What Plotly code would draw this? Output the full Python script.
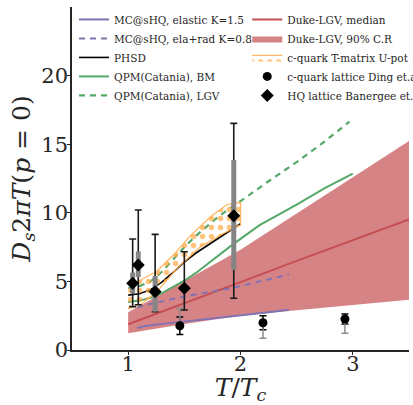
import plotly.graph_objects as go

# ---- model curves: T/Tc and D_s 2piT ----
mc_el_T = [1.08, 1.15, 1.25, 1.5, 1.75, 2.0, 2.25, 2.43]
mc_el_D = [1.6, 1.75, 1.85, 2.07, 2.27, 2.5, 2.75, 2.93]

mc_rad_T = [1.08, 1.25, 1.5, 1.75, 1.94, 2.2, 2.43]
mc_rad_D = [3.1, 3.45, 3.9, 4.25, 4.55, 5.05, 5.5]

phsd_T = [1.0, 1.1, 1.2, 1.3, 1.4, 1.5, 1.6, 1.7, 1.8, 1.9, 2.0]
phsd_D = [4.0, 4.1, 4.4, 4.95, 5.65, 6.4, 7.05, 7.6, 8.15, 8.7, 9.2]

qpm_bm_T = [1.0, 1.1, 1.2, 1.3, 1.4, 1.5, 1.6, 1.7, 1.8, 1.9, 2.0, 2.17, 2.5, 2.75, 3.0]
qpm_bm_D = [3.5, 3.6, 3.8, 4.15, 4.6, 5.05, 5.6, 6.25, 6.9, 7.5, 8.1, 9.1, 10.6, 11.8, 12.85]

qpm_lgv_T = [1.0, 1.1, 1.2, 1.3, 1.4, 1.5, 1.6, 1.7, 1.8, 1.9, 2.0, 2.25, 2.5, 2.75, 2.97]
qpm_lgv_D = [4.5, 4.65, 5.0, 5.7, 6.6, 7.5, 8.3, 9.0, 9.7, 10.3, 10.85, 12.3, 13.7, 15.2, 16.65]

duke_T = [1.0, 1.5, 2.0, 2.5, 3.0, 3.5]
duke_med = [1.88, 3.4, 4.95, 6.5, 8.0, 9.51]
duke_hi = [2.76, 5.0, 7.3, 9.95, 12.6, 15.24]
duke_lo = [1.22, 1.9, 2.5, 2.9, 3.3, 3.66]

tm_hi_T = [1.0, 1.11, 1.25, 1.40, 1.55, 1.73, 1.88, 2.0]
tm_hi_D = [4.7, 5.1, 5.7, 6.9, 8.3, 9.7, 10.6, 10.75]
tm_lo_T = [1.0, 1.11, 1.25, 1.43, 1.64, 1.85, 2.0]
tm_lo_D = [3.0, 3.3, 4.2, 5.9, 7.5, 8.5, 9.1]

# ---- lattice data ----
ding_T = [1.46, 2.2, 2.93]
ding_D = [1.77, 1.99, 2.26]
ding_err = [0.64, 0.51, 0.36]
ding_sys_plus = [1.27, 0.0, 0.0]
ding_sys_minus = [0.0, 1.14, 1.04]

hq_T = [1.04, 1.09, 1.24, 1.5, 1.94]
hq_D = [4.86, 6.2, 4.25, 4.5, 9.79]
hq_err_plus = [3.23, 4.0, 4.18, 2.66, 6.73]
hq_err_minus = [1.7, 2.9, 1.46, 1.58, 6.02]
hq_sys_plus = [0.78, 0.99, 1.14, 0.0, 4.06]
hq_sys_minus = [0.73, 0.88, 1.46, 0.0, 3.96]

x_ticks = [1, 2, 3]
y_ticks = [0, 5, 10, 15, 20]

PURPLE = "#8172b2"
GREEN = "#55a868"
RED = "#c44e52"
ORANGE = "rgba(255,170,70,0.85)"
INK = "#262626"
SERIF = "DejaVu Serif"

fig = go.Figure()

# Duke-LGV credible region and median
fig.add_trace(go.Scatter(
    x=duke_T + duke_T[::-1], y=duke_hi + duke_lo[::-1],
    fill="toself", fillcolor="rgba(196,78,82,0.7)", mode="lines",
    line=dict(width=0), name="Duke-LGV, 90% C.R", legend="legend2",
    legendrank=2, hoverinfo="skip"))
fig.add_trace(go.Scatter(
    x=duke_T, y=duke_med, mode="lines", line=dict(color=RED, width=2),
    name="Duke-LGV, median", legend="legend2", legendrank=1))

# MC@sHQ
fig.add_trace(go.Scatter(
    x=mc_el_T, y=mc_el_D, mode="lines", line=dict(color=PURPLE, width=2),
    name="MC@sHQ, elastic K=1.5", legendrank=1))
fig.add_trace(go.Scatter(
    x=mc_rad_T, y=mc_rad_D, mode="lines",
    line=dict(color=PURPLE, width=2, dash="6px,5px"),
    name="MC@sHQ, ela+rad K=0.8", legendrank=2))

# PHSD
fig.add_trace(go.Scatter(
    x=phsd_T, y=phsd_D, mode="lines", line=dict(color="black", width=1.6),
    name="PHSD", legendrank=3))

# QPM (Catania)
fig.add_trace(go.Scatter(
    x=qpm_bm_T, y=qpm_bm_D, mode="lines", line=dict(color=GREEN, width=2),
    name="QPM(Catania), BM", legendrank=4))
fig.add_trace(go.Scatter(
    x=qpm_lgv_T, y=qpm_lgv_D, mode="lines",
    line=dict(color=GREEN, width=2.2, dash="6px,5px"),
    name="QPM(Catania), LGV", legendrank=5))

# T-matrix band, hatched
fig.add_trace(go.Scatter(
    x=tm_hi_T + tm_lo_T[::-1], y=tm_hi_D + tm_lo_D[::-1],
    fill="toself", fillcolor="rgba(0,0,0,0)", mode="lines",
    line=dict(color=ORANGE, width=1.3),
    fillpattern=dict(shape=".", fgcolor="rgba(255,170,70,1)", fgopacity=0.7,
                     bgcolor="rgba(0,0,0,0)", size=9, solidity=0.3),
    name="c-quark T-matrix U-pot", legend="legend2", legendrank=3,
    hoverinfo="skip"))

# Ding et al.: statistical (black) then systematic (gray) bars
fig.add_trace(go.Scatter(
    x=ding_T, y=ding_D, mode="markers", marker=dict(size=1, opacity=0),
    error_y=dict(type="data", array=ding_err, color="black",
                 thickness=1.5, width=3.5),
    showlegend=False, hoverinfo="skip"))
fig.add_trace(go.Scatter(
    x=ding_T, y=ding_D, mode="markers",
    marker=dict(symbol="circle", size=9, color="black"),
    error_y=dict(type="data", symmetric=False, array=ding_sys_plus,
                 arrayminus=ding_sys_minus, color="#8c8c8c",
                 thickness=1.5, width=3.5),
    name="c-quark lattice Ding et.al", legend="legend2", legendrank=4))

# Banerjee et al.
fig.add_trace(go.Scatter(
    x=hq_T, y=hq_D, mode="markers", marker=dict(size=1, opacity=0),
    error_y=dict(type="data", symmetric=False, array=hq_err_plus,
                 arrayminus=hq_err_minus, color="#1a1a1a",
                 thickness=1.6, width=3.5),
    showlegend=False, hoverinfo="skip"))
fig.add_trace(go.Scatter(
    x=hq_T, y=hq_D, mode="markers",
    marker=dict(symbol="diamond", size=10, color="black"),
    error_y=dict(type="data", symmetric=False, array=hq_sys_plus,
                 arrayminus=hq_sys_minus, color="#858585",
                 thickness=5, width=0),
    name="HQ lattice Banergee et.al", legend="legend2", legendrank=5))

legend_common = dict(
    font=dict(family=SERIF, size=10.5, color=INK),
    bgcolor="rgba(0,0,0,0)", borderwidth=0,
    xanchor="left", yanchor="top", traceorder="normal",
    itemwidth=30,
)

fig.update_layout(
    width=413, height=405,
    margin=dict(l=72, r=4, t=7, b=55, pad=0, autoexpand=False),
    paper_bgcolor="white", plot_bgcolor="white",
    font=dict(family=SERIF, color=INK),
    legend=dict(x=0.006, y=1.006, **legend_common),
    legend2=dict(x=0.52, y=1.006, **legend_common),
    xaxis=dict(
        range=[0.5, 3.5], tickvals=x_ticks, ticktext=[str(v) for v in x_ticks],
        showgrid=False, zeroline=False, showline=True, linecolor=INK,
        linewidth=1.5, ticks="outside", ticklen=3, tickwidth=1,
        tickcolor=INK, tickfont=dict(family=SERIF, size=21, color=INK),
        ticklabelstandoff=-9, automargin=False,
        title=dict(text="<i>T</i>/<i>T</i><sub><i>c</i></sub>",
                   font=dict(family=SERIF, size=25, color=INK), standoff=20),
    ),
    yaxis=dict(
        range=[0, 25], tickvals=y_ticks, ticktext=[str(v) for v in y_ticks],
        showgrid=False, zeroline=False, showline=True, linecolor=INK,
        linewidth=1.5, ticks="outside", ticklen=3, tickwidth=1,
        tickcolor=INK, tickfont=dict(family=SERIF, size=21, color=INK),
        ticklabelstandoff=-5, automargin=False,
        title=dict(text="<i>D</i><sub><i>s</i></sub>2<i>πT</i>(<i>p</i> = 0)",
                   font=dict(family=SERIF, size=25, color=INK), standoff=4),
    ),
)

fig.write_html("out.html")
